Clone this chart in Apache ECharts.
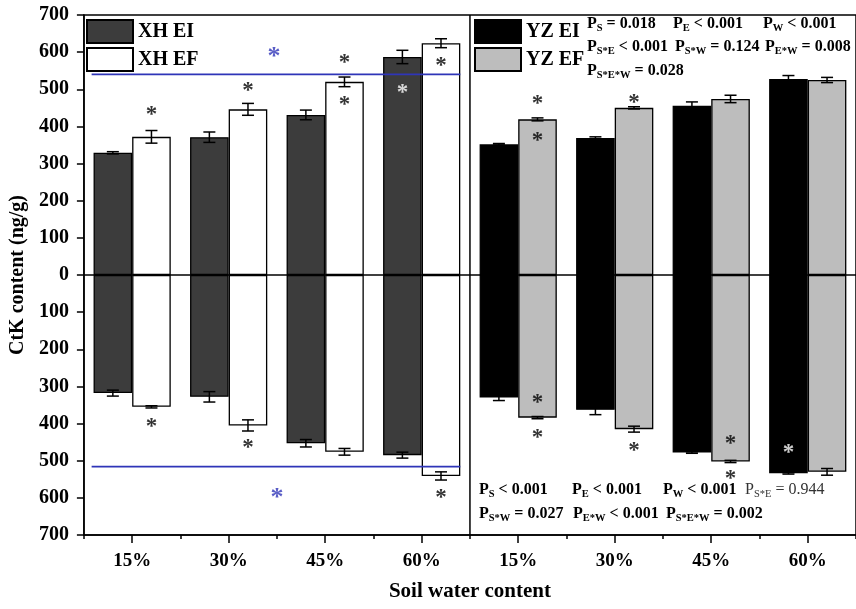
<!DOCTYPE html>
<html>
<head>
<meta charset="utf-8">
<script src="https://cdn.jsdelivr.net/npm/echarts@6/dist/echarts.min.js"></script>
<style>html,body{margin:0;padding:0;background:#fff;}#c{width:856px;height:609px;}</style>
</head>
<body>
<div id="c"></div>
<script>
// ---------- data ----------
const waterLevels = ['15%', '30%', '45%', '60%'];
const yTicks = [-700, 700, 100]; // min, max, step
// upper (positive) bars
const xhEiUp = [329, 371, 431, 587];
const xhEiUpErr = [3, 14, 13, 18];
const xhEfUp = [372, 446, 520, 624];
const xhEfUpErr = [17, 16, 13, 12];
const yzEiUp = [352, 369, 456, 528];
const yzEiUpErr = [2, 3, 10, 9];
const yzEfUp = [419, 450, 474, 525];
const yzEfUpErr = [4, 3, 10, 7];
// lower (negative) bars
const xhEiDown = [-318, -328, -453, -485];
const xhEiDownErr = [8, 14, 10, 8];
const xhEfDown = [-355, -405, -476, -541];
const xhEfDownErr = [3, 15, 9, 11];
const yzEiDown = [-330, -363, -478, -534];
const yzEiDownErr = [8, 13, 2, 2];
const yzEfDown = [-384, -415, -502, -530];
const yzEfDownErr = [3, 8, 3, 9];
// asterisk annotations [position index, value]
const asteriskBlack = [[0.2, 444], [1.2, 510], [2.2, 583], [2.2, 471], [3.2, 577],
  [0.2, -395], [1.2, -453], [3.2, -586],
  [4.2, 474], [4.2, 374], [5.2, 477], [4.2, -330], [4.2, -426], [5.2, -460], [6.2, -442], [6.2, -537]];
const asteriskWhite = [[2.8, 503], [6.8, -465]];
const asteriskBlue = [[1.47, 601], [1.5, -586]];
const blueLineLevels = [540, -516];
const blueLineSpan = [-0.42, 3.4];
// statistics text
const statsTop = [
  ['S', ' = 0.018', 587, 24, true], ['E', ' < 0.001', 673, 24, true], ['W', ' < 0.001', 763, 24, true],
  ['S*E', ' < 0.001', 587, 47, true], ['S*W', ' = 0.124', 675, 47, true], ['E*W', ' = 0.008', 765, 47, true],
  ['S*E*W', ' = 0.028', 587, 71, true]
];
const statsBottom = [
  ['S', ' < 0.001', 479, 490, true], ['E', ' < 0.001', 572, 490, true], ['W', ' < 0.001', 663, 490, true],
  ['S*E', ' = 0.944', 745, 490, false],
  ['S*W', ' = 0.027', 479, 514, true], ['E*W', ' < 0.001', 573, 514, true], ['S*E*W', ' = 0.002', 666, 514, true]
];

// ---------- build ----------
const FONT = "'Liberation Serif','Times New Roman',serif";
const categories = waterLevels.concat(waterLevels);
const nulls = waterLevels.map(() => null);
const left = a => a.concat(nulls);
const right = a => nulls.concat(a);

const colors = { 'XH EI': '#3c3c3c', 'XH EF': '#ffffff', 'YZ EI': '#000000', 'YZ EF': '#bdbdbd' };
function bar(name, stack, data) {
  return {
    type: 'bar', name, stack, data, xAxisIndex: 0, yAxisIndex: 0,
    barWidth: '40%', barGap: 0,
    itemStyle: { color: colors[name], borderColor: '#000', borderWidth: 1.3 },
    emphasis: { disabled: true }, z: 2
  };
}

const errData = [];
function addErr(vals, errs, g, dx) {
  vals.forEach((v, i) => errData.push([g * 4 + i + dx, v, errs[i]]));
}
addErr(xhEiUp, xhEiUpErr, 0, -0.2); addErr(xhEfUp, xhEfUpErr, 0, 0.2);
addErr(xhEiDown, xhEiDownErr, 0, -0.2); addErr(xhEfDown, xhEfDownErr, 0, 0.2);
addErr(yzEiUp, yzEiUpErr, 1, -0.2); addErr(yzEfUp, yzEfUpErr, 1, 0.2);
addErr(yzEiDown, yzEiDownErr, 1, -0.2); addErr(yzEfDown, yzEfDownErr, 1, 0.2);

function asterisks(data, color, size) {
  return {
    type: 'scatter', xAxisIndex: 2, yAxisIndex: 0, data, symbolSize: 1,
    itemStyle: { color: 'rgba(0,0,0,0)' }, z: 6, silent: true,
    label: { show: true, position: 'inside', formatter: '*', color, fontFamily: FONT,
      fontWeight: 'bold', fontSize: size, offset: [0, Math.round(size * 0.22)] }
  };
}
function hline(level, span, color, width) {
  return { type: 'line', xAxisIndex: 2, yAxisIndex: 0, data: [[span[0], level], [span[1], level]],
    symbol: 'none', lineStyle: { color, width }, z: 4, silent: true };
}

const rich = bold => ({
  m: { fontFamily: FONT, fontWeight: bold ? 'bold' : 'normal', fontSize: 16, lineHeight: 20, fill: bold ? '#000' : '#333' },
  s: { fontFamily: FONT, fontWeight: bold ? 'bold' : 'normal', fontSize: 10.5, lineHeight: 12, verticalAlign: 'bottom', fill: bold ? '#000' : '#333' }
});
const graphics = statsTop.concat(statsBottom).map(s => ({
  type: 'text', x: s[2], y: s[3], z: 10,
  style: { text: '{m|P}{s|' + s[0] + '}{m|' + s[1] + '}', rich: rich(s[4]), verticalAlign: 'middle', align: 'left' }
}));

const legendBase = {
  orient: 'vertical', padding: 0, itemWidth: 46, itemHeight: 23, itemGap: 3, top: 19,
  icon: 'rect', selectedMode: false,
  itemStyle: { borderColor: '#000', borderWidth: 2 },
  textStyle: { fontFamily: FONT, fontWeight: 'bold', fontSize: 20, color: '#000' }
};

const option = {
  animation: false,
  backgroundColor: '#fff',
  grid: { left: 83, right: -5, top: 15, bottom: 74, show: true, borderColor: '#000', borderWidth: 1.5 },
  legend: [
    Object.assign({}, legendBase, { left: 86, data: ['XH EI', 'XH EF'] }),
    Object.assign({}, legendBase, { left: 474, data: ['YZ EI', 'YZ EF'] })
  ],
  xAxis: [
    { type: 'category', data: categories, position: 'bottom',
      axisLine: { show: true, onZero: false, lineStyle: { color: '#000', width: 1.5 } },
      axisTick: { show: true, length: 4, interval: 0, lineStyle: { color: '#000', width: 1.5 } },
      axisLabel: { interval: 0, margin: 17, color: '#000', fontFamily: FONT, fontWeight: 'bold', fontSize: 19 },
      name: 'Soil water content', nameLocation: 'middle', nameGap: 46,
      nameTextStyle: { fontFamily: FONT, fontWeight: 'bold', fontSize: 21, color: '#000' } },
    { type: 'category', data: categories, position: 'bottom',
      axisLine: { show: false, onZero: false },
      axisTick: { show: true, alignWithLabel: true, length: 8, interval: 0, lineStyle: { color: '#000', width: 1.5 } },
      axisLabel: { show: false } },
    { type: 'value', min: -0.5, max: 7.5, show: false }
  ],
  yAxis: {
    type: 'value', min: yTicks[0], max: yTicks[1], interval: yTicks[2], position: 'left',
    axisLine: { show: true, onZero: false, lineStyle: { color: '#000', width: 1.5 } },
    axisTick: { show: true, length: 7, lineStyle: { color: '#000', width: 1.5 } },
    splitLine: { show: false },
    axisLabel: { margin: 15, color: '#000', fontFamily: FONT, fontWeight: 'bold', fontSize: 20,
      formatter: v => String(Math.abs(v)) },
    name: 'CtK content (ng/g)', nameLocation: 'middle', nameGap: 55,
    nameTextStyle: { fontFamily: FONT, fontWeight: 'bold', fontSize: 20, color: '#000' }
  },
  series: [
    bar('XH EI', 'EI', left(xhEiUp)), bar('XH EI', 'EI', left(xhEiDown)),
    bar('YZ EI', 'EI', right(yzEiUp)), bar('YZ EI', 'EI', right(yzEiDown)),
    bar('XH EF', 'EF', left(xhEfUp)), bar('XH EF', 'EF', left(xhEfDown)),
    bar('YZ EF', 'EF', right(yzEfUp)), bar('YZ EF', 'EF', right(yzEfDown)),
    hline(0, [-0.5, 7.5], '#000', 1.5),
    hline(blueLineLevels[0], blueLineSpan, '#2f35b8', 1.8),
    hline(blueLineLevels[1], blueLineSpan, '#2f35b8', 1.8),
    { type: 'line', xAxisIndex: 2, yAxisIndex: 0, data: [[3.5, yTicks[0]], [3.5, yTicks[1]]],
      symbol: 'none', lineStyle: { color: '#000', width: 1.5 }, z: 4, silent: true },
    { type: 'custom', xAxisIndex: 2, yAxisIndex: 0, data: errData, z: 5, silent: true,
      encode: { x: 0, y: 1 },
      renderItem: (params, api) => {
        const x = api.value(0), y = api.value(1), e = api.value(2);
        const hi = api.coord([x, y + e]), lo = api.coord([x, y - e]);
        const h = 6, st = { stroke: '#000', lineWidth: 1.5 };
        return { type: 'group', children: [
          { type: 'line', shape: { x1: hi[0], y1: hi[1], x2: lo[0], y2: lo[1] }, style: st },
          { type: 'line', shape: { x1: hi[0] - h, y1: hi[1], x2: hi[0] + h, y2: hi[1] }, style: st },
          { type: 'line', shape: { x1: lo[0] - h, y1: lo[1], x2: lo[0] + h, y2: lo[1] }, style: st }
        ] };
      } },
    asterisks(asteriskBlack, '#000', 23),
    asterisks(asteriskWhite, '#fff', 23),
    asterisks(asteriskBlue, '#2f35b8', 26)
  ],
  graphic: graphics
};

const chart = echarts.init(document.getElementById('c'), null, { renderer: 'canvas' });
chart.setOption(option);
</script>
</body>
</html>
